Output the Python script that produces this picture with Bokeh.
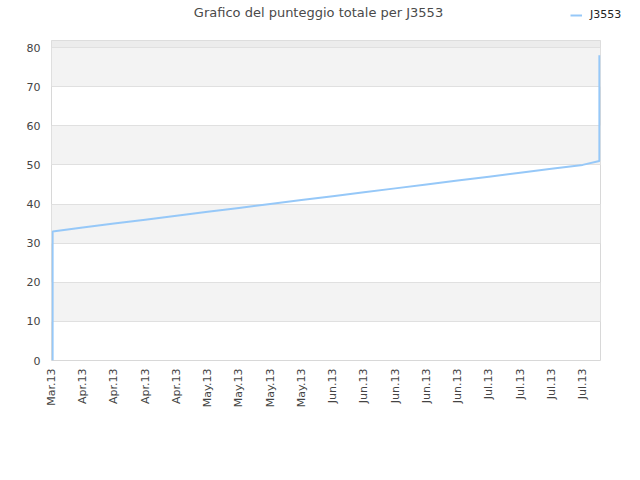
import calendar
import datetime as dt

from bokeh.plotting import figure
from bokeh.layouts import column
from bokeh.models import Range1d, FixedTicker, BoxAnnotation, Legend, LegendItem, Label
from bokeh.embed import file_html
from bokeh.resources import INLINE

# ---- data -------------------------------------------------------------
score_dates = [
    "2013-03-31 06:00", "2013-03-31 06:00",
    "2013-04-07 00:00", "2013-04-14 00:00", "2013-04-21 00:00", "2013-04-28 00:00",
    "2013-05-05 00:00", "2013-05-12 00:00", "2013-05-19 00:00", "2013-05-26 00:00",
    "2013-06-02 00:00", "2013-06-09 00:00", "2013-06-16 00:00", "2013-06-23 00:00",
    "2013-06-30 00:00", "2013-07-07 00:00", "2013-07-14 00:00", "2013-07-21 00:00",
    "2013-07-28 00:00", "2013-07-31 18:00", "2013-07-31 18:00",
]
scores = [0, 33, 34, 35, 36, 37, 38, 39, 40, 41, 42, 43, 44, 45, 46, 47, 48, 49, 50, 51, 78]

tick_dates = [
    "2013-03-31", "2013-04-07", "2013-04-14", "2013-04-21", "2013-04-28",
    "2013-05-05", "2013-05-12", "2013-05-19", "2013-05-26",
    "2013-06-02", "2013-06-09", "2013-06-16", "2013-06-23", "2013-06-30",
    "2013-07-07", "2013-07-14", "2013-07-21", "2013-07-28",
]
tick_labels = [
    "Mar.13", "Apr.13", "Apr.13", "Apr.13", "Apr.13",
    "May.13", "May.13", "May.13", "May.13",
    "Jun.13", "Jun.13", "Jun.13", "Jun.13", "Jun.13",
    "Jul.13", "Jul.13", "Jul.13", "Jul.13",
]
y_ticks = [0, 10, 20, 30, 40, 50, 60, 70, 80]
series_name = "J3553"
title_text = "Grafico del punteggio totale per J3553"


def ms(s):
    if len(s) == 10:
        s = s + " 00:00"
    d = dt.datetime.strptime(s, "%Y-%m-%d %H:%M")
    return calendar.timegm(d.timetuple()) * 1000.0


xs = [ms(s) for s in score_dates]
tick_ms = [ms(s) for s in tick_dates]

FONT = "DejaVu Sans"
LINE_COLOR = "#96c8f8"

# ---- header strip: title + legend --------------------------------------
head = figure(
    width=640, height=40,
    x_range=Range1d(0, 640), y_range=Range1d(0, 40),
    output_backend="svg", toolbar_location=None, title=None,
    x_axis_location=None, y_axis_location=None,
    min_border=0,
)
head.frame_align = False
head.outline_line_color = None
head.xgrid.grid_line_color = None
head.ygrid.grid_line_color = None
head.background_fill_color = "white"
head.border_fill_color = "white"

head.add_layout(Label(
    x=318, y=28, x_units="screen", y_units="screen", text=title_text,
    text_align="center", text_baseline="middle",
    text_font=FONT, text_font_size="13px", text_color="#4a4a4a",
))

# legend swatch: the series drawn with the same style (lies outside this strip's view)
key = head.line(xs, scores, line_color=LINE_COLOR, line_width=2)
legend = Legend(items=[LegendItem(label=series_name, renderers=[key])],
                location=(570, 19))
legend.border_line_color = None
legend.background_fill_alpha = 0
legend.label_text_font = FONT
legend.label_text_font_size = "11px"
legend.label_text_color = "#222222"
legend.label_text_baseline = "middle"
legend.glyph_width = 12
legend.glyph_height = 12
legend.label_height = 12
legend.label_standoff = 8
legend.padding = 0
legend.margin = 0
head.add_layout(legend)

# ---- main chart -------------------------------------------------------
p = figure(
    width=640, height=440,
    x_axis_type="datetime",
    x_range=Range1d(ms("2013-03-31"), ms("2013-08-01")),
    y_range=Range1d(0, 81.8),
    output_backend="svg", toolbar_location=None, title=None,
    min_border_left=51, min_border_right=40,
    min_border_top=0, min_border_bottom=120,
)
p.frame_align = False
p.background_fill_color = "white"
p.border_fill_color = "white"
p.outline_line_color = "#d8d8d8"

# alternating bands
for lo, hi in zip(y_ticks[1::2], y_ticks[2::2]):
    p.add_layout(BoxAnnotation(bottom=lo, top=hi, fill_color="#f3f3f3", fill_alpha=1,
                               line_color=None, level="image"))
p.add_layout(BoxAnnotation(bottom=y_ticks[-1], fill_color="#ececec", fill_alpha=1,
                           line_color=None, level="image"))

r = p.line(xs, scores, line_color=LINE_COLOR, line_width=2)

# axes
p.xaxis.ticker = FixedTicker(ticks=tick_ms)
p.xaxis.major_label_overrides = {t: l for t, l in zip(tick_ms, tick_labels)}
p.xaxis.major_label_orientation = 3.14159265 / 2
p.yaxis.ticker = FixedTicker(ticks=y_ticks)
for ax in (p.xaxis[0], p.yaxis[0]):
    ax.axis_line_color = None
    ax.major_tick_line_color = None
    ax.minor_tick_line_color = None
    ax.major_tick_out = 0
    ax.major_tick_in = 0
    ax.major_label_text_font = FONT
    ax.major_label_text_font_size = "11px"
    ax.major_label_text_color = "#444444"
p.xaxis.major_label_standoff = 8
p.yaxis.major_label_standoff = 11

p.xgrid.grid_line_color = None
p.ygrid.grid_line_color = "#e0e0e0"

layout = column(head, p, spacing=0)
open("out.html", "w").write(file_html(layout, INLINE))
